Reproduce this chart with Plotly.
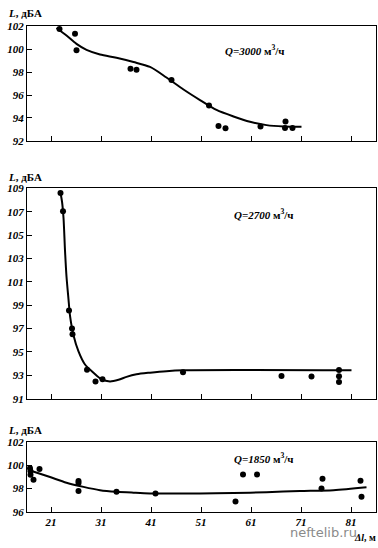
import plotly.graph_objects as go

W, H = 378, 548

# ---- data: panel 1 (Q=3000) ----
p1_x = [22.7, 25.8, 26.1, 36.9, 38.1, 45.1, 52.6, 54.5, 55.9, 62.9, 67.9, 67.8, 69.3]
p1_y = [101.74, 101.34, 99.9, 98.29, 98.2, 97.3, 95.08, 93.3, 93.1, 93.26, 93.7, 93.12, 93.12]
c1_x = [22.1, 24.1, 26.1, 28.1, 30.8, 34.1, 37.5, 40.8, 44.1, 47.5, 50.8, 54.1, 57.5, 60.8, 64.1, 67.5, 71.1]
c1_y = [101.83, 101.17, 100.45, 99.93, 99.53, 99.24, 98.87, 98.44, 97.52, 96.48, 95.56, 94.70, 94.13, 93.67, 93.38, 93.26, 93.24]

# ---- data: panel 2 (Q=2700) ----
p2_x = [22.9, 23.4, 24.6, 25.2, 25.3, 28.2, 29.9, 31.3, 47.4, 67.1, 73.1, 78.6, 78.6, 78.6]
p2_y = [108.61, 107.05, 98.56, 97.0, 96.52, 93.48, 92.48, 92.67, 93.26, 92.95, 92.9, 93.45, 92.92, 92.42]
c2_x = [22.9, 23.2, 23.5, 23.8, 24.1, 24.5, 24.8, 25.5, 26.5, 27.8, 29.5, 31.1, 32.8, 34.5, 36.1, 38.1, 40.8, 44.1, 47.5, 81.1]
c2_y = [108.61, 107.88, 106.49, 103.70, 101.46, 99.51, 98.12, 96.44, 95.05, 93.93, 93.23, 92.67, 92.48, 92.62, 92.87, 93.09, 93.23, 93.36, 93.43, 93.43]

# ---- data: panel 3 (Q=1850) ----
p3_x = [16.8, 16.9, 16.9, 17.5, 18.7, 26.5, 26.5, 26.5, 34.1, 41.9, 57.9, 59.4, 62.2, 75.3, 75.1, 82.9, 83.1]
p3_y = [99.74, 99.49, 99.18, 98.76, 99.68, 98.65, 98.48, 97.79, 97.73, 97.59, 96.89, 99.21, 99.21, 98.85, 98.01, 98.68, 97.31]
c3_x = [16.5, 20.8, 24.1, 27.5, 30.8, 34.1, 37.5, 40.8, 50.8, 57.5, 64.1, 70.8, 77.5, 84.1]
c3_y = [99.60, 98.99, 98.51, 98.15, 97.87, 97.73, 97.65, 97.59, 97.59, 97.62, 97.70, 97.79, 97.87, 98.12]

x_ticks = [21, 31, 41, 51, 61, 71, 81]
y1_ticks = [92, 94, 96, 98, 100, 102]
y2_ticks = [91, 93, 95, 97, 99, 101, 103, 105, 107, 109]
y3_ticks = [96, 98, 100, 102]
labels_q = ["<i>Q=3000</i> м<sup>3</sup>/ч", "<i>Q=2700</i> м<sup>3</sup>/ч", "<i>Q=1850</i> м<sup>3</sup>/ч"]

FONT = "Liberation Serif"

def pxy(y):
    return (H - y) / H

x0, x1 = 27 / W, 376 / W
doms = [(pxy(138), pxy(20.5)), (pxy(401.5), pxy(186.5)), (pxy(517.3), pxy(445.7))]
yranges = [(92, 102), (91, 109), (96, 102)]
yticks = [y1_ticks, y2_ticks, y3_ticks]

fig = go.Figure()
pts = [(p1_x, p1_y, c1_x, c1_y), (p2_x, p2_y, c2_x, c2_y), (p3_x, p3_y, c3_x, c3_y)]
for i, (px, py, cx, cy) in enumerate(pts):
    xa = "x" if i == 0 else f"x{i+1}"
    ya = "y" if i == 0 else f"y{i+1}"
    fig.add_trace(go.Scatter(x=cx, y=cy, mode="lines", line=dict(color="black", width=2, shape="spline", smoothing=0.8),
                             xaxis=xa, yaxis=ya, showlegend=False, hoverinfo="skip"))
    fig.add_trace(go.Scatter(x=px, y=py, mode="markers", marker=dict(color="black", size=6),
                             xaxis=xa, yaxis=ya, showlegend=False))

layout = dict(width=W, height=H, margin=dict(l=0, r=0, t=0, b=0),
              paper_bgcolor="white", plot_bgcolor="white", showlegend=False,
              font=dict(family=FONT, color="black"))
for i in range(3):
    sx = "" if i == 0 else str(i + 1)
    layout["xaxis" + sx] = dict(domain=[x0, x1], range=[16.2, 86], anchor="y" + sx,
                                tickvals=x_ticks, ticks="inside", ticklen=5, tickcolor="black",
                                showticklabels=(i == 2), showgrid=False, zeroline=False,
                                showline=True, linecolor="black", linewidth=1, mirror=True,
                                tickfont=dict(family=FONT, size=11, color="black"))
    layout["yaxis" + sx] = dict(domain=list(doms[i]), range=list(yranges[i]), anchor="x" + sx,
                                tickvals=yticks[i], ticktext=[f"<b><i>{v}</i></b>" for v in yticks[i]],
                                ticks="inside", ticklen=5, tickcolor="black",
                                showgrid=False, zeroline=False,
                                showline=True, linecolor="black", linewidth=1, mirror=True,
                                tickfont=dict(family=FONT, size=11, color="black"))
layout["xaxis3"]["ticktext"] = [f"<b><i>{v}</i></b>" for v in x_ticks]
fig.update_layout(**layout)

ann = []
# y titles
for ytop in [7, 175, 433]:
    ann.append(dict(text="<b><i>L</i>, дБА</b>", xref="paper", yref="paper", x=6 / W, y=pxy(ytop),
                    xanchor="left", yanchor="middle", showarrow=False, font=dict(family=FONT, size=11)))
# Q labels
q_pos = [("x", "y", 55.4, 99.93), ("x2", "y2", 57.2, 106.8), ("x3", "y3", 57.2, 100.63)]
for (xr, yr, qx, qy), t in zip(q_pos, labels_q):
    ann.append(dict(text="<b>" + t + "</b>", xref=xr, yref=yr, x=qx, y=qy, xanchor="left", yanchor="middle",
                    showarrow=False, font=dict(family=FONT, size=11)))
ann.append(dict(text="neftelib.ru", xref="paper", yref="paper", x=288 / W, y=pxy(538), xanchor="left",
                yanchor="middle", showarrow=False, font=dict(family="DejaVu Sans", size=13, color="#8a8a8a")))
ann.append(dict(text="<b><i>Δl</i>, м</b>", xref="paper", yref="paper", x=1.0, y=pxy(543), xanchor="right",
                yanchor="middle", showarrow=False, font=dict(family=FONT, size=10)))
fig.update_layout(annotations=ann)

fig.write_html("out.html", config={"displayModeBar": False},
               post_script="document.body.style.margin='0';document.body.style.overflow='hidden';")
